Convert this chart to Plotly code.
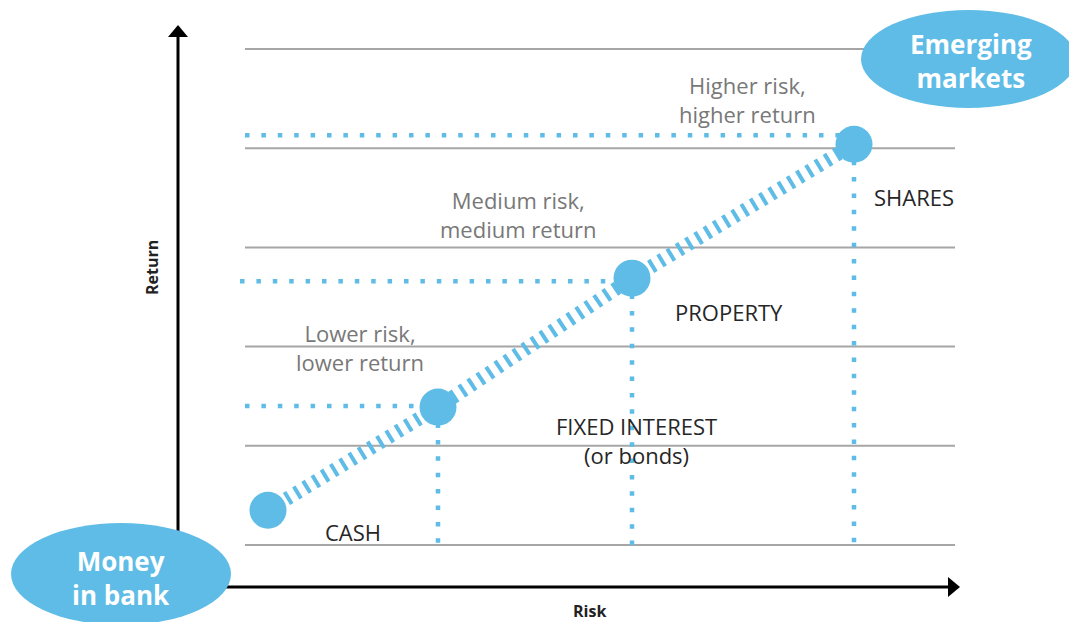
import plotly.graph_objects as go

# ---------------- data ----------------
assets = ["CASH", "FIXED INTEREST", "PROPERTY", "SHARES"]
risk = [0.90, 2.60, 4.54, 6.76]          # risk position
ret = [0.35, 1.39, 2.69, 4.04]           # return level
guide_return = [None, 1.40, 2.66, 4.13]  # level of dotted horizontal guide
guide_start = [None, 0.67, 0.62, 0.67]   # where the dotted guide starts
grid_levels = [0, 1, 2, 3, 4, 5]

BLUE = "#5ebce6"
GRID = "#a6a6a6"
FONT = "Open Sans"

# helpers: convert picture pixels to axis units (layout decorations only)
def X(px):
    return (px - 178) / 100.0

def Y(py):
    return (545 - py) / 99.2

fig = go.Figure()

# dotted guide lines
gx, gy = [], []
for xr, yr, gr, gs in zip(risk, ret, guide_return, guide_start):
    if gr is None:
        continue
    gx += [gs, xr, None, xr, xr, None]
    gy += [gr, gr, None, yr, grid_levels[0], None]
fig.add_trace(go.Scatter(x=gx, y=gy, mode="lines",
                         line=dict(color=BLUE, width=4.5, dash="4.5px,11.9px"),
                         hoverinfo="skip", showlegend=False))

# hatched risk/return line
fig.add_trace(go.Scatter(x=risk, y=ret, mode="lines",
                         line=dict(color=BLUE, width=14, dash="4px,6.8px"),
                         hoverinfo="skip", showlegend=False))

# asset points
fig.add_trace(go.Scatter(x=risk, y=ret, mode="markers", text=assets,
                         marker=dict(color=BLUE, size=37, line=dict(width=0)),
                         hoverinfo="text", showlegend=False))

shapes = []
# grid lines
for g in grid_levels:
    shapes.append(dict(type="line", x0=X(245), x1=X(955), y0=g, y1=g,
                       line=dict(color=GRID, width=2), layer="below"))
# axes with arrow heads
shapes.append(dict(type="line", x0=X(178), x1=X(178), y0=Y(588), y1=Y(34),
                   line=dict(color="black", width=3), layer="below"))
shapes.append(dict(type="line", x0=X(177), x1=X(950), y0=Y(587), y1=Y(587),
                   line=dict(color="black", width=3), layer="below"))
shapes.append(dict(type="path",
                   path=f"M {X(178)},{Y(25)} L {X(168)},{Y(37)} L {X(188)},{Y(37)} Z",
                   fillcolor="black", line=dict(width=0), layer="below"))
shapes.append(dict(type="path",
                   path=f"M {X(960)},{Y(587)} L {X(948)},{Y(577)} L {X(948)},{Y(597)} Z",
                   fillcolor="black", line=dict(width=0), layer="below"))
# ellipses
shapes.append(dict(type="circle", x0=X(11), x1=X(231), y0=Y(625), y1=Y(523),
                   fillcolor=BLUE, line=dict(width=0), layer="above"))
shapes.append(dict(type="circle", x0=X(861), x1=X(1076), y0=Y(108), y1=Y(10),
                   fillcolor=BLUE, line=dict(width=0), layer="above"))

annotations = []
def note(text, px, py, size=22, color="#262626", bold=False, angle=0):
    if bold:
        text = f"<b>{text}</b>"
    annotations.append(dict(text=text, x=X(px), y=Y(py), xref="x", yref="y",
                            showarrow=False, xanchor="center", yanchor="middle",
                            textangle=angle, align="center",
                            font=dict(family=FONT, size=size, color=color)))

GRAY = "#787878"
note("Higher risk,<br>higher return", 747, 99, color=GRAY)
note("Medium risk,<br>medium return", 518, 214, color=GRAY)
note("Lower risk,<br>lower return", 360, 347, color=GRAY)
note("SHARES", 914, 197)
note("PROPERTY", 729, 312)
note("FIXED INTEREST<br>(or bonds)", 636, 440)
note("CASH", 353, 532)
note("Return", 152, 268, size=16, color="#222222", bold=True, angle=-90)
note("Risk", 589, 611, size=16, color="#222222", bold=True)
note("Money<br>in bank", 121, 578, size=26, color="white", bold=True)
note("Emerging<br>markets", 971, 61, size=26, color="white", bold=True)

fig.update_layout(
    width=1069, height=622, autosize=False,
    margin=dict(l=0, r=0, t=0, b=0),
    paper_bgcolor="white", plot_bgcolor="white",
    xaxis=dict(range=[X(0), X(1069)], visible=False, fixedrange=True),
    yaxis=dict(range=[Y(622), Y(0)], visible=False, fixedrange=True),
    shapes=shapes, annotations=annotations,
    font=dict(family=FONT),
)

fig.write_html("out.html",
               config={"displayModeBar": False},
               post_script="document.body.style.margin='0';"
                           "document.body.style.overflow='hidden';")
